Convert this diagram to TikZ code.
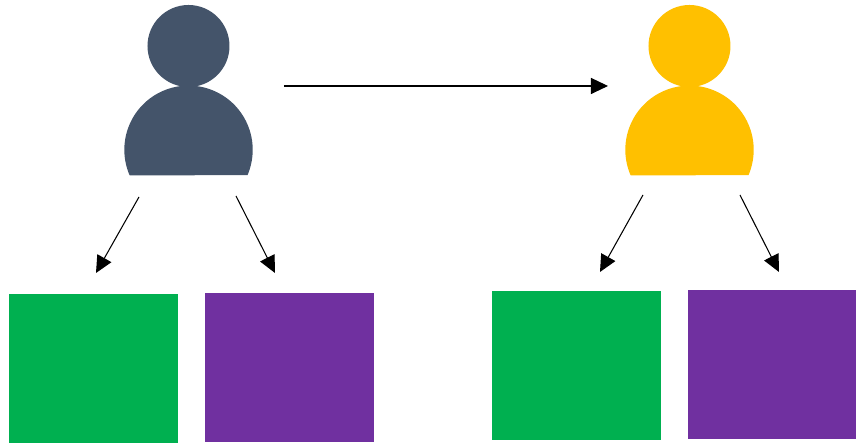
\documentclass[tikz,border=0pt]{standalone}
\usepackage{tikz}
\usetikzlibrary{arrows.meta}
\definecolor{slate}{HTML}{44546A}
\definecolor{gold}{HTML}{FFC000}
\definecolor{leaf}{HTML}{00B050}
\definecolor{plum}{HTML}{7030A0}
\tikzset{
  head/.style={circle, minimum size=0.82cm, inner sep=0pt, outer sep=0pt},
  box/.style={minimum width=1.69cm, minimum height=1.49cm, inner sep=0pt, outer sep=0pt},
  link/.style={line width=0.3pt, -{Triangle[length=1.7mm,width=1.6mm]}}
}
\begin{document}
\begin{tikzpicture}
\useasboundingbox (0,0) rectangle (8.56,4.43);

\node[head, fill=slate] (headL) at (1.885,3.97) {};
\fill[slate] (1.297,2.675) arc (203.6:-23.2:0.642) -- cycle;
\node[head, fill=gold] (headR) at (6.895,3.97) {};
\fill[gold] (6.307,2.675) arc (203.6:-23.2:0.642) -- cycle;

\node[box, fill=leaf] (greenL) at (0.935,0.745) {};
\node[box, fill=plum] (purpleL) at (2.895,0.755) {};
\node[box, fill=leaf] (greenR) at (5.765,0.775) {};
\node[box, fill=plum] (purpleR) at (7.725,0.785) {};

\coordinate (from) at (2.84,3.57);
\coordinate (to) at (6.08,3.57);
\draw[link] (from) -- (to);

\coordinate (a1) at (1.39,2.46);
\coordinate (a2) at (0.96,1.70);
\coordinate (b1) at (2.36,2.47);
\coordinate (b2) at (2.75,1.70);
\draw[link] (a1) -- (a2);
\draw[link] (b1) -- (b2);

\coordinate (c1) at (6.43,2.48);
\coordinate (c2) at (6.00,1.71);
\coordinate (d1) at (7.40,2.48);
\coordinate (d2) at (7.79,1.71);
\draw[link] (c1) -- (c2);
\draw[link] (d1) -- (d2);
\end{tikzpicture}
\end{document}
